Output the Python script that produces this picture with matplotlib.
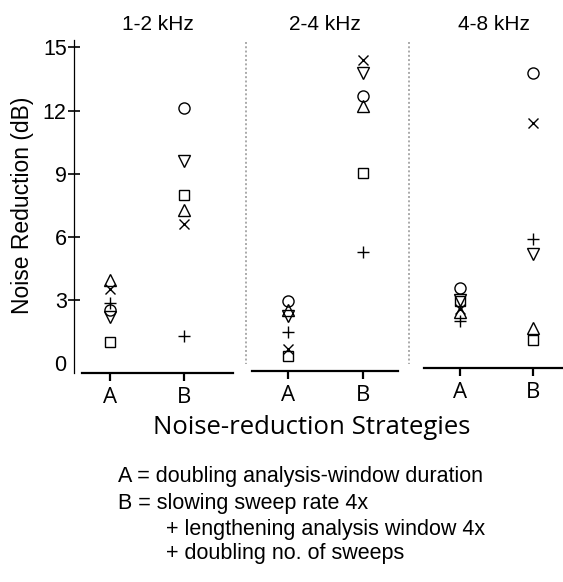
import matplotlib
matplotlib.use('Agg')
import matplotlib.pyplot as plt
from matplotlib.lines import Line2D

bands = ['1-2 kHz', '2-4 kHz', '4-8 kHz']
strategies = ['A', 'B']
y_ticks = [0, 3, 6, 9, 12, 15]

# noise reduction (dB) for each symbol, per band as (A, B)
circle = [(2.55, 12.1), (2.95, 12.7), (3.6, 13.8)]
tri_down = [(2.2, 9.6), (2.25, 13.8), (3.0, 5.2)]
square = [(1.0, 8.0), (0.35, 9.05), (2.95, 1.1)]
tri_up = [(3.95, 7.3), (2.55, 12.2), (2.45, 1.7)]
cross = [(3.55, 6.6), (0.7, 14.4), (2.6, 11.4)]
plus = [(2.85, 1.3), (1.5, 5.3), (2.0, 5.9)]

series = [
    (circle, 'o', 8),
    (tri_down, 'v', 8),
    (square, 's', 6.5),
    (tri_up, '^', 8),
    (cross, 'x', 7),
    (plus, '+', 9),
]

legend_lines = [
    'A = doubling analysis-window duration',
    'B = slowing sweep rate 4x',
    '+ lengthening analysis window 4x',
    '+ doubling no. of sweeps',
]

W, H = 563, 582
ARIAL = 'Liberation Sans'
MYRIAD = 'Open Sans'


def px_axes(fig, x0, x1, y0, y1):
    return fig.add_axes([x0 / W, 1 - y1 / H, (x1 - x0) / W, (y1 - y0) / H])


fig = plt.figure(figsize=(W / 100, H / 100), dpi=100)

panel_x = [(82, 233), (252, 397.5), (424, 563)]
xlims = [(-0.38, 1.66), (-0.48, 1.46), (-0.49, 1.41)]
bottom_pos = [-0.475, -0.36, -0.22]

for i, band in enumerate(bands):
    ax = px_axes(fig, panel_x[i][0], panel_x[i][1], 40, 373.4)
    ax.set_xlim(*xlims[i])
    ax.set_ylim(-0.475, 15.35)
    for s in ['top', 'right']:
        ax.spines[s].set_visible(False)
    ax.spines['bottom'].set_position(('data', bottom_pos[i]))
    ax.spines['bottom'].set_linewidth(1.6)

    for vals, m, ms in series:
        a, b = vals[i]
        ax.plot([0, 1], [a, b], linestyle='none', marker=m, markersize=ms,
                markerfacecolor='none', markeredgecolor='black',
                markeredgewidth=1.0, color='black', clip_on=False)

    ax.set_xticks([0, 1])
    ax.set_xticklabels(strategies, fontsize=16, family=MYRIAD)
    ax.tick_params(axis='x', direction='out', length=6, width=1.6, pad=4)
    ax.set_title(band, fontsize=15, family=ARIAL, pad=7)

    if i == 0:
        ax.spines['left'].set_position(('outward', 6))
        ax.spines['left'].set_linewidth(0.9)
        ax.set_yticks(y_ticks)
        ax.set_yticklabels([str(t) for t in y_ticks], fontsize=15.5, family=ARIAL)
        ax.tick_params(axis='y', direction='inout', length=8, width=1.2, pad=1)
        ax.yaxis.get_major_ticks()[0].tick1line.set_visible(False)
    else:
        ax.spines['left'].set_visible(False)
        ax.set_yticks([])

# dotted separators between bands
for xs in [246, 409]:
    fig.add_artist(Line2D([xs / W, xs / W], [1 - 42 / H, 1 - 364 / H],
                          color='#aaaaaa', linewidth=1.4,
                          linestyle=(0, (1, 1.2))))

fig.text(23 / W, 1 - 205 / H, 'Noise Reduction (dB)', rotation=90,
         ha='center', va='center', fontsize=16.5, family=ARIAL)
fig.text(312 / W, 1 - 428 / H, 'Noise-reduction Strategies',
         ha='center', va='center', fontsize=18.5, family=MYRIAD)

leg_pos = [(118.5, 476.5), (118.5, 504), (166, 529), (166, 553)]
for (lx, ly), line in zip(leg_pos, legend_lines):
    fig.text(lx / W, 1 - ly / H, line, ha='left', va='center',
             fontsize=15.5, family=ARIAL)

fig.savefig('out.png', dpi=100)
